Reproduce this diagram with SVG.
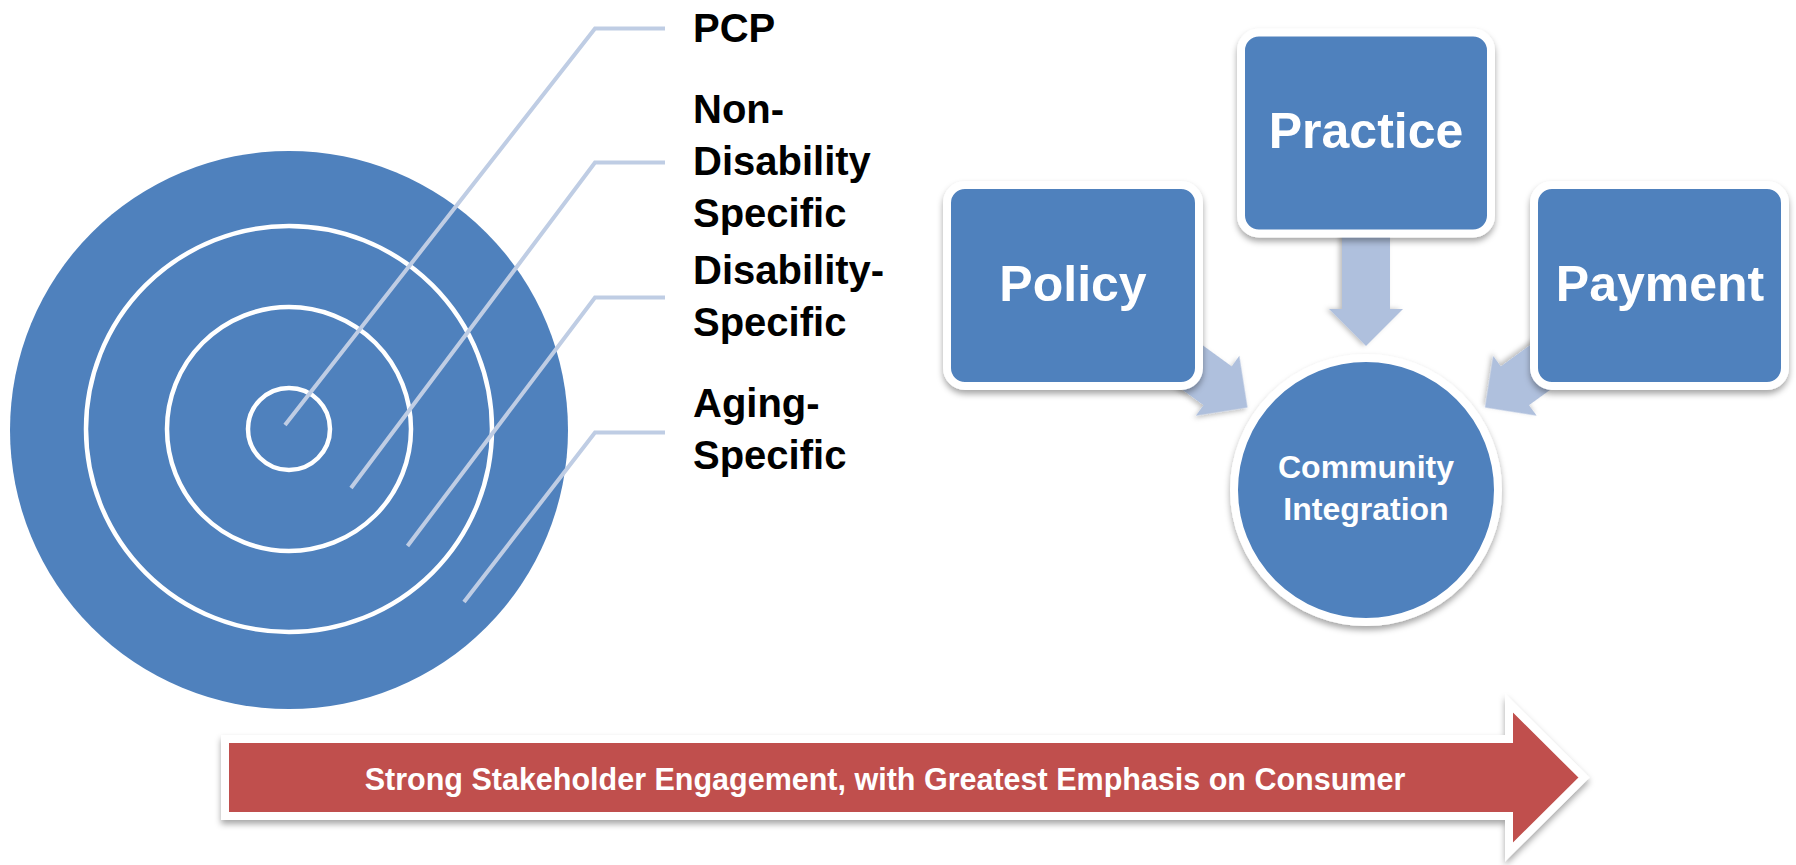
<svg xmlns="http://www.w3.org/2000/svg" width="1796" height="865" viewBox="0 0 1796 865">
  <defs>
    <filter id="shadow" x="-10%" y="-10%" width="120%" height="130%">
      <feDropShadow dx="0" dy="4" stdDeviation="3" flood-color="#000" flood-opacity="0.35"/>
    </filter>
    <filter id="softshadow" x="-10%" y="-10%" width="120%" height="130%">
      <feDropShadow dx="0" dy="3" stdDeviation="2.5" flood-color="#000" flood-opacity="0.25"/>
    </filter>
    <path id="blockArrow" d="M -130 -24 L -37 -24 L -37 -37 L 0 0 L -37 37 L -37 24 L -130 24 Z"/>
  </defs>
  <style>
    .ring { fill: none; stroke: #ffffff; stroke-width: 4.5; }
    .leader { fill: none; stroke: #bfcde4; stroke-width: 4; }
    .label { font-family: "Liberation Sans", Arial, sans-serif; font-weight: bold; font-size: 40px; fill: #000000; }
    .box { fill: #4f81bd; stroke: #ffffff; stroke-width: 8; filter: url(#shadow); }
    .boxText { font-family: "Liberation Sans", Arial, sans-serif; font-weight: bold; font-size: 50px; fill: #ffffff; text-anchor: middle; }
    .circText { font-family: "Liberation Sans", Arial, sans-serif; font-weight: bold; font-size: 32px; fill: #ffffff; text-anchor: middle; }
    .flow { fill: #afc0dd; filter: url(#softshadow); }
    .banner { fill: #c0504d; stroke: #ffffff; stroke-width: 8; stroke-linejoin: miter; stroke-miterlimit: 10; filter: url(#shadow); }
    .bannerText { font-family: "Liberation Sans", Arial, sans-serif; font-weight: bold; font-size: 30.5px; fill: #ffffff; text-anchor: middle; }
  </style>

  <!-- Target (concentric circles) -->
  <g id="target">
    <circle cx="289" cy="430" r="279" fill="#4f81bd"/>
    <circle class="ring" cx="289" cy="429" r="203"/>
    <circle class="ring" cx="289" cy="429" r="122"/>
    <circle class="ring" cx="289" cy="429" r="41"/>
  </g>

  <!-- Leader lines -->
  <g id="leaders">
    <polyline class="leader" points="285,425 595,28.5 665,28.5"/>
    <polyline class="leader" points="351,488 595,162.5 665,162.5"/>
    <polyline class="leader" points="407.5,546 595,297.5 665,297.5"/>
    <polyline class="leader" points="464,602 595,432.5 665,432.5"/>
  </g>

  <g id="label-pcp">
    <text class="label" x="693" y="41.5">PCP</text>
  </g>
  <g id="label-nondisability">
    <text class="label" x="693" y="122.5">Non-</text>
    <text class="label" x="693" y="175">Disability</text>
    <text class="label" x="693" y="227">Specific</text>
  </g>
  <g id="label-disability">
    <text class="label" x="693" y="283.5">Disability-</text>
    <text class="label" x="693" y="335.5">Specific</text>
  </g>
  <g id="label-aging">
    <text class="label" x="693" y="417">Aging-</text>
    <text class="label" x="693" y="469">Specific</text>
  </g>

  <!-- Connectors -->
  <g id="connectors">
    <use href="#blockArrow" class="flow" transform="translate(1366,346) rotate(90)"/>
    <use href="#blockArrow" class="flow" transform="translate(1247.5,407.5) rotate(36)"/>
    <use href="#blockArrow" class="flow" transform="translate(1485,407.5) rotate(144)"/>
  </g>

  <g id="node-policy">
    <rect class="box" x="947" y="185" width="252" height="201" rx="18" ry="18"/>
    <text class="boxText" x="1073" y="301">Policy</text>
  </g>
  <g id="node-practice">
    <rect class="box" x="1241" y="32.5" width="250" height="201" rx="18" ry="18"/>
    <text class="boxText" x="1366" y="148">Practice</text>
  </g>
  <g id="node-payment">
    <rect class="box" x="1534" y="185" width="251" height="201" rx="18" ry="18"/>
    <text class="boxText" x="1660" y="301">Payment</text>
  </g>
  <g id="node-community">
    <circle class="box" cx="1366" cy="490" r="132"/>
    <text class="circText" x="1366" y="478">Community</text>
    <text class="circText" x="1366" y="520">Integration</text>
  </g>

  <!-- Banner arrow -->
  <g id="banner">
    <polygon class="banner" points="225,739 1509,739 1509,703 1584,777.5 1509,852 1509,816 225,816"/>
    <text class="bannerText" x="885" y="790">Strong Stakeholder Engagement, with Greatest Emphasis on Consumer</text>
  </g>
</svg>
